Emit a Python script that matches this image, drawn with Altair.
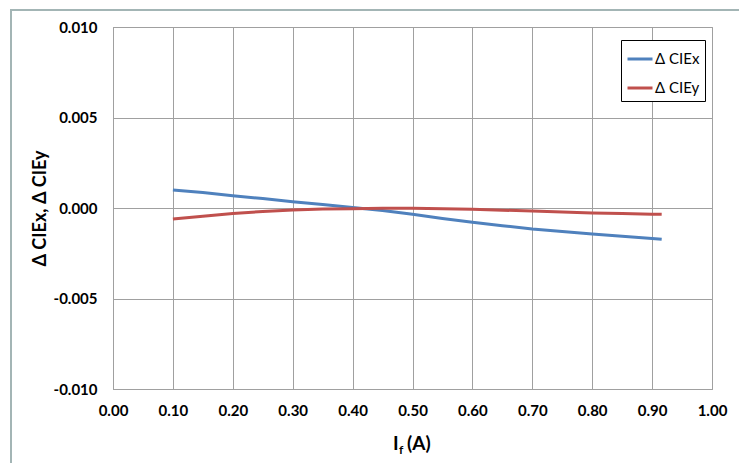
import altair as alt
import pandas as pd

current = [0.10, 0.15, 0.20, 0.25, 0.30, 0.35, 0.40, 0.45, 0.50, 0.55, 0.60,
           0.65, 0.70, 0.75, 0.80, 0.85, 0.90, 0.916]
d_cie_x = [0.00100, 0.00085, 0.00068, 0.00052, 0.00035, 0.00019, 0.00003,
           -0.00014, -0.00035, -0.00058, -0.00079, -0.00098, -0.00116,
           -0.00130, -0.00144, -0.00156, -0.00168, -0.00173]
d_cie_y = [-0.00061, -0.00045, -0.00030, -0.00019, -0.00011, -0.00006,
           -0.00004, -0.00002, -0.00002, -0.00004, -0.00007, -0.00012,
           -0.00017, -0.00022, -0.00028, -0.00031, -0.00034, -0.00035]
series_names = ["Δ CIEx", "Δ CIEy"]
series_colors = ["#4f81bd", "#c0504d"]
x_ticks = [0.0, 0.1, 0.2, 0.3, 0.4, 0.5, 0.6, 0.7, 0.8, 0.9, 1.0]
y_ticks = [-0.010, -0.005, 0.0, 0.005, 0.010]

rows = []
for name, vals in zip(series_names, [d_cie_x, d_cie_y]):
    for c, v in zip(current, vals):
        rows.append({"If": c, "value": v, "series": name})
df = pd.DataFrame(rows)

W, H = 599, 362
FONT = "Lato"

lines = alt.Chart(df).mark_line(strokeWidth=3).encode(
    x=alt.X("If:Q", scale=alt.Scale(domain=[0, 1], nice=False),
            axis=alt.Axis(values=x_ticks, format=".2f", title=None,
                          labelFont=FONT, labelFontWeight="bold", labelFontSize=15,
                          labelColor="#000", labelPadding=14, ticks=False,
                          domainColor="#a0a0a0", gridColor="#a0a0a0",
                          labelFlush=False)),
    y=alt.Y("value:Q", scale=alt.Scale(domain=[-0.010, 0.010], nice=False),
            axis=alt.Axis(values=y_ticks,
                          labelExpr="replace(format(datum.value, '.3f'), '\u2212', '-')",
                          title="Δ CIEx, Δ CIEy", titleFont=FONT, titleFontSize=18,
                          titleFontWeight="bold", titleColor="#000", titlePadding=4,
                          labelFont=FONT, labelFontWeight="bold", labelFontSize=15,
                          labelColor="#000", labelPadding=16, ticks=False,
                          domainColor="#a0a0a0", gridColor="#a0a0a0",
                          labelFlush=False)),
    color=alt.Color("series:N",
                    scale=alt.Scale(domain=series_names, range=series_colors),
                    legend=alt.Legend(title=None, orient="none", legendX=508, legendY=13,
                                      symbolType="stroke", symbolSize=625,
                                      symbolStrokeWidth=3, labelFont=FONT,
                                      labelFontSize=15, labelColor="#000",
                                      labelOffset=1, rowPadding=7, padding=5,
                                      fillColor="white", strokeColor="#000",
                                      cornerRadius=0)),
)

one = alt.Data(values=[{"a": 1}])
frame = alt.Chart(one).mark_rect(fill=None, stroke="#a3b5b5", strokeWidth=2).encode(
    x=alt.value(-102), x2=alt.value(627), y=alt.value(-17), y2=alt.value(450)
)

title_I = alt.Chart(one).mark_text(font=FONT, fontWeight="bold", fontSize=19,
                                   align="left", baseline="alphabetic", color="#000").encode(
    x=alt.value(280), y=alt.value(423), text=alt.value("I"))
title_f = alt.Chart(one).mark_text(font=FONT, fontWeight="bold", fontSize=12,
                                   align="left", baseline="alphabetic", color="#000").encode(
    x=alt.value(286), y=alt.value(427), text=alt.value("f"))
title_A = alt.Chart(one).mark_text(font=FONT, fontWeight="bold", fontSize=19,
                                   align="left", baseline="alphabetic", color="#000").encode(
    x=alt.value(294), y=alt.value(423), text=alt.value("(A)"))

chart = alt.layer(frame, lines, title_I, title_f, title_A).properties(
    width=W, height=H,
    autosize=alt.AutoSizeParams(type="none"),
    padding={"left": 105, "top": 19, "right": 27, "bottom": 74},
    background="white",
).configure_view(stroke="#a0a0a0", strokeWidth=1).configure_axis(gridWidth=1)

chart.save("out.html", embed_options={"renderer": "svg", "actions": False})
